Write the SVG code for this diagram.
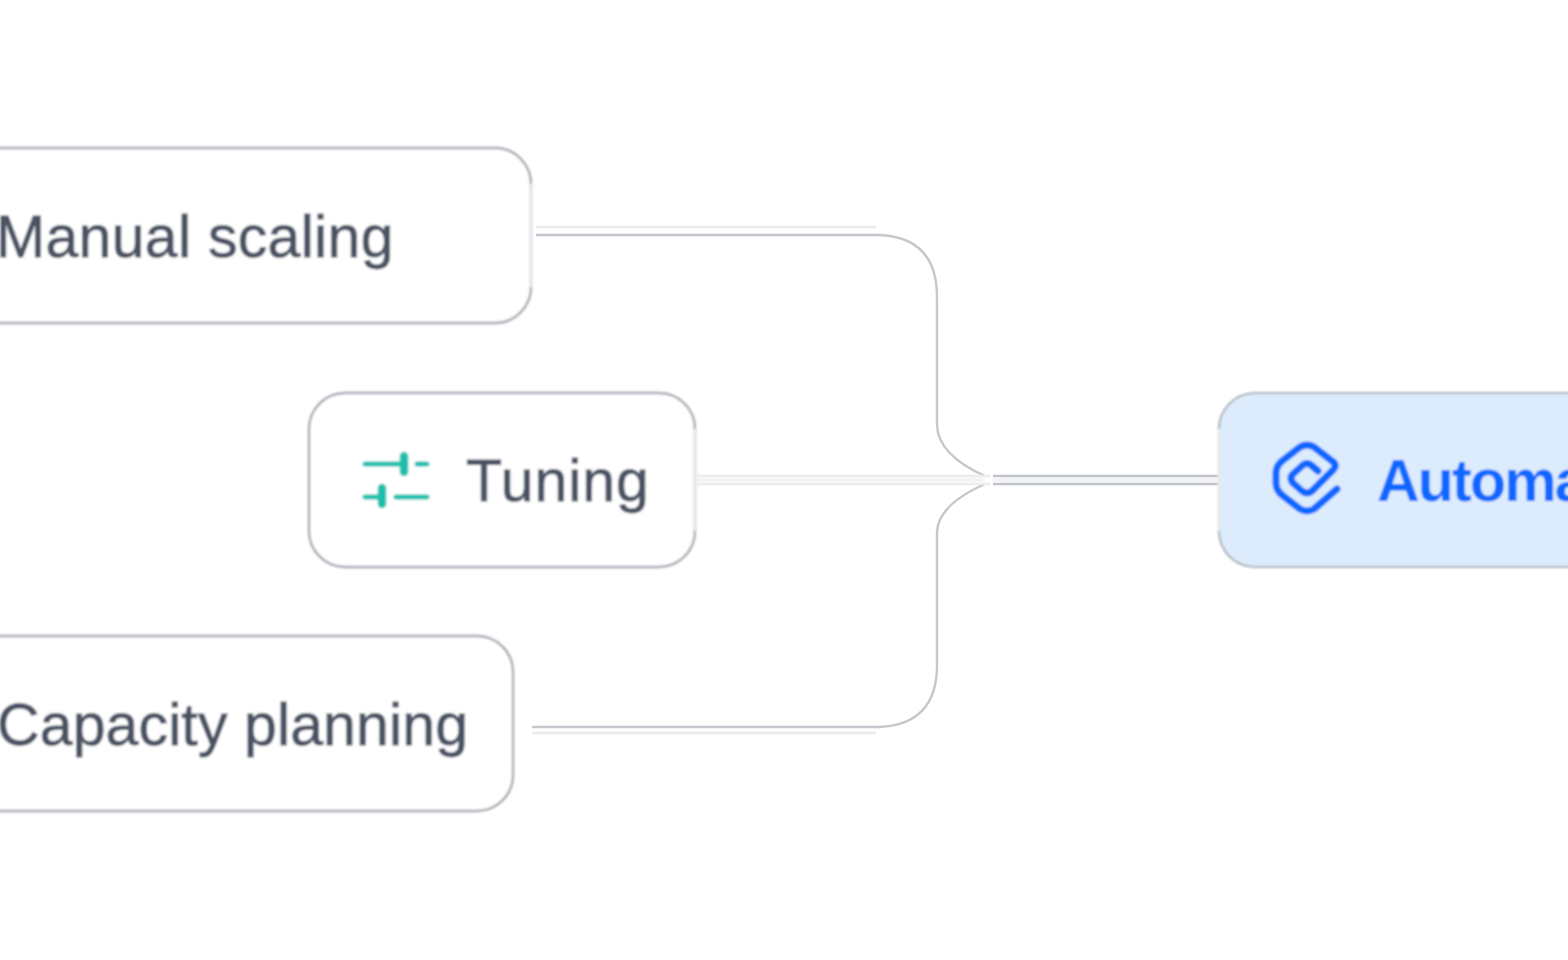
<svg xmlns="http://www.w3.org/2000/svg" width="1568" height="960" viewBox="0 0 1568 960">
<style>
.box{fill:#fff;stroke:#a6aab2;stroke-width:2.4}
.lbl{font-family:"Liberation Sans",Arial,sans-serif;font-size:59px;fill:#4a5263;stroke:#4a5263;stroke-width:.9}
.c{fill:none;stroke:#bfc2c8;stroke-width:2.4}
.d{fill:none;stroke:#c4c7cc;stroke-width:2.4}
.p{fill:none;stroke:#e9ebee;stroke-width:2.6}
.w{fill:none;stroke:#f3f4f5;stroke-width:4}
.soft{filter:url(#b)}
.soft2{filter:url(#b2)}
</style>
<defs>
<filter id="b" x="-5%" y="-5%" width="110%" height="110%"><feGaussianBlur stdDeviation="0.9"/></filter>
<filter id="b2" x="-5%" y="-5%" width="110%" height="110%"><feGaussianBlur stdDeviation="0.5"/></filter>
</defs>
<rect width="1568" height="960" fill="#fff"/>
<g id="connectors" class="soft2">
<path class="p" d="M536 227H876"/>
<path class="d" d="M536 235H880Q937 238 937 297V425Q938 455 985 476"/>
<path class="d" d="M532 727H880Q937 724 937 665V532Q938 505 985 484"/>
<path class="p" d="M532 733H876"/>
<path class="p" d="M697 476H990M697 484H990"/>
<path class="w" d="M697 480H985"/>
<path class="c" d="M993 476H1219M993 484H1219"/>
<path class="w" d="M993 480H1219"/>
</g>
<g id="node-manual" class="soft">
<rect class="box" x="-60" y="148" width="591" height="175" rx="36"/>
<path d="M531 184V287" fill="none" stroke="#e3e5e8" stroke-width="3"/>
<text class="lbl" x="-4" y="257" letter-spacing=".3">Manual scaling</text>
</g>
<g id="node-tuning" class="soft">
<rect class="box" x="309" y="393" width="386" height="174" rx="36"/>
<path d="M695 429V531" fill="none" stroke="#e3e5e8" stroke-width="3"/>
<g fill="none" stroke="#1abfae" stroke-linecap="round">
<path stroke-width="5" d="M365 464H400M417 464H427M365 497H378M396 497H427"/>
<path stroke-width="8.5" d="M404 456V472M382 488V504"/>
</g>
<text class="lbl" x="466" y="501" letter-spacing=".9">Tuning</text>
</g>
<g id="node-capacity" class="soft">
<rect class="box" x="-60" y="636" width="573" height="175" rx="36"/>
<text class="lbl" x="-3" y="745" letter-spacing=".12">Capacity planning</text>
</g>
<g id="node-automation" class="soft">
<rect x="1219" y="393" width="420" height="174" rx="36" fill="#dcecfd" stroke="#b0b4ba" stroke-width="2.2"/>
<path d="M1219 429V531" fill="none" stroke="#e8ebee" stroke-width="3"/>
<path d="M1337 489L1314 509Q1307 513 1300 509L1282 495Q1276 490 1276 483V473Q1276 466 1282 461L1300 447Q1307 443 1314 447L1332 461Q1338 465 1333 470L1312 491Q1307 495 1302 491L1293 483Q1289 478 1293 474L1303 465Q1307 462 1311 465L1318 471" fill="none" stroke="#0a68ff" stroke-width="7" stroke-linecap="round" stroke-linejoin="round"/>
<text x="1377" y="501" font-family="'Liberation Sans',Arial,sans-serif" font-size="59" font-weight="700" letter-spacing="-1.8" fill="#0a68ff">Automa</text>
</g>
</svg>
